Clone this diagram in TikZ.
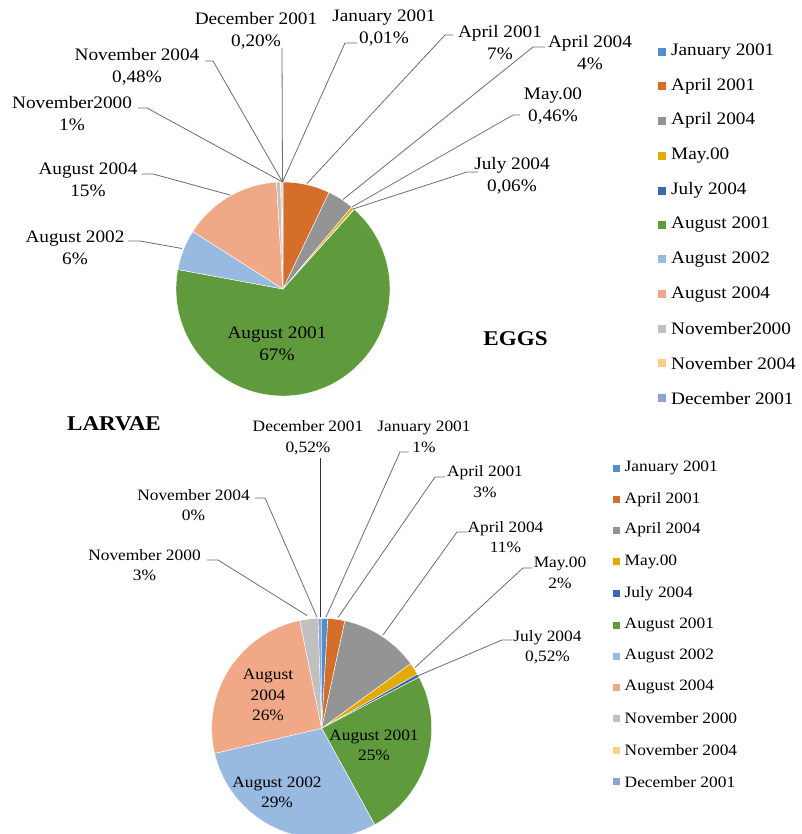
\documentclass[tikz,border=0pt]{standalone}
\usepackage{fontspec}
\setmainfont[FakeStretch=1.1]{Liberation Serif}
\usetikzlibrary{calc}
\definecolor{cJan}{HTML}{4F8FCB}
\definecolor{cAprA}{HTML}{D46E2A}
\definecolor{cAprB}{HTML}{949494}
\definecolor{cMay}{HTML}{E3AB00}
\definecolor{cJul}{HTML}{3F66B3}
\definecolor{cAugA}{HTML}{5F9A3C}
\definecolor{cAugB}{HTML}{98B9E0}
\definecolor{cAugC}{HTML}{F1A887}
\definecolor{cNovA}{HTML}{C0C0C0}
\definecolor{cNovB}{HTML}{FDD080}
\definecolor{cDec}{HTML}{8EA4D6}
\definecolor{cLead}{HTML}{6E6E6E}
\newcommand\pieslice[6]{\fill[#6, draw=white, line width=0.4pt] (#1,#2) -- ++(#4-90:#3) arc[start angle=#4-90, end angle=#5-90, radius=#3] -- cycle;}
\tikzset{
  leader/.style={draw=cLead, line width=0.8pt},
  lblA/.style={align=center, font=\fontsize{17.5}{22}\selectfont, inner sep=0pt},
  lblB/.style={align=center, font=\fontsize{15.8}{20.5}\selectfont, inner sep=0pt},
  legA/.style={anchor=west, font=\fontsize{17.5}{22}\selectfont, inner sep=0pt},
  legB/.style={anchor=west, font=\fontsize{15.8}{20.5}\selectfont, inner sep=0pt},
  sqA/.style={minimum size=8pt, inner sep=0pt},
  sqB/.style={minimum size=7pt, inner sep=0pt},
  ttl/.style={font=\fontsize{21}{24}\selectfont\bfseries, inner sep=0pt}
}
\begin{document}
\begin{tikzpicture}[x=1pt,y=-1pt]
\useasboundingbox (0,0) rectangle (801,834);
\fill[white] (0,0) rectangle (801,834);
% ---------- EGGS pie ----------
\pieslice{283}{289}{107}{0}{0.1}{cJan}
\pieslice{283}{289}{107}{0.1}{25.5}{cAprA}
\pieslice{283}{289}{107}{25.5}{40}{cAprB}
\pieslice{283}{289}{107}{40}{41.6}{cMay}
\pieslice{283}{289}{107}{41.6}{41.9}{cJul}
\pieslice{283}{289}{107}{41.9}{280.5}{cAugA}
\pieslice{283}{289}{107}{280.5}{302.5}{cAugB}
\pieslice{283}{289}{107}{302.5}{356.5}{cAugC}
\pieslice{283}{289}{107}{356.5}{358.7}{cNovA}
\pieslice{283}{289}{107}{358.7}{359.5}{cNovB}
\pieslice{283}{289}{107}{359.5}{360}{cDec}
% labels
\node[lblA] (tDec) at (256,31) {December 2001\\0,20\%};
\node[lblA] (tJan) at (384,28) {January 2001\\0,01\%};
\node[lblA] (tAprA) at (500,42.5) {April 2001\\7\%};
\node[lblA] (tAprB) at (590,52.5) {April 2004\\4\%};
\node[lblA] (tMay) at (553,106.5) {May.00\\0,46\%};
\node[lblA] (tJul) at (512,176) {July 2004\\0,06\%};
\node[lblA] (tNovB) at (137,66.7) {November 2004\\0,48\%};
\node[lblA] (tNovA) at (72,114) {November2000\\1\%};
\node[lblA] (tAugC) at (88,180) {August 2004\\15\%};
\node[lblA] (tAugB) at (75,248) {August 2002\\6\%};
\node[lblA] (tAugA) at (277,343.5) {August 2001\\67\%};
\node[ttl] (eggs) at (515.5,339) {EGGS};
% leader coordinates
\coordinate (pTop) at (282.5,182);
\coordinate (aDec) at (282,48);
\coordinate (aJan) at (357,43);
\coordinate (aAprA) at (453,35);
\coordinate (aAprB) at (545,47);
\coordinate (aMay) at (520,115);
\coordinate (aJul) at (478,172);
\coordinate (aNovB) at (205,61);
\coordinate (aNovA) at (138,108);
\coordinate (aAugC) at (142,174);
\coordinate (aAugB) at (128,241);
\coordinate (eAprA) at (307,183.5);
\coordinate (eAprB) at (343,199.5);
\coordinate (eMay) at (352,207);
\coordinate (eJul) at (353,209);
\coordinate (eAugC) at (230,195);
\coordinate (eAugB) at (182,248.5);
\draw[leader] (aDec) -- (pTop);
\draw[leader] (aJan) -- ++(-12,0) -- (pTop);
\draw[leader] (aAprA) -- ++(-8,0) -- (eAprA);
\draw[leader] (aAprB) -- ++(-12,0) -- (eAprB);
\draw[leader] (aMay) -- ++(-7,0) -- (eMay);
\draw[leader] (aJul) -- ++(-11,0) -- (eJul);
\draw[leader] (aNovB) -- ++(8,0) -- (pTop);
\draw[leader] (aNovA) -- ++(9,0) -- (pTop);
\draw[leader] (aAugC) -- ++(11,0) -- (eAugC);
\draw[leader] (aAugB) -- ++(12,0) -- (eAugB);
% legend top
\foreach \yy/\cc/\tt [count=\i] in {51.7/cJan/January 2001, 86/cAprA/April 2001, 120.7/cAprB/April 2004, 156/cMay/May.00, 190.7/cJul/July 2004, 225/cAugA/August 2001, 259.3/cAugB/August 2002, 294.3/cAugC/August 2004, 329/cNovA/November2000, 363.3/cNovB/November 2004, 398.3/cDec/December 2001}{
  \node[sqA, fill=\cc] (ls\i) at (662,\yy) {};
  \node[legA] (lt\i) at (671,\yy) {\tt};
}
% ---------- LARVAE pie ----------
\pieslice{321.7}{728.3}{110}{0}{3.2}{cJan}
\pieslice{321.7}{728.3}{110}{3.2}{12.2}{cAprA}
\pieslice{321.7}{728.3}{110}{12.2}{54}{cAprB}
\pieslice{321.7}{728.3}{110}{54}{60.5}{cMay}
\pieslice{321.7}{728.3}{110}{60.5}{62.3}{cJul}
\pieslice{321.7}{728.3}{110}{62.3}{151.2}{cAugA}
\pieslice{321.7}{728.3}{110}{151.2}{256.8}{cAugB}
\pieslice{321.7}{728.3}{110}{256.8}{348.5}{cAugC}
\pieslice{321.7}{728.3}{110}{348.5}{358.1}{cNovA}
\pieslice{321.7}{728.3}{110}{358.1}{360}{cDec}
\node[ttl] (larvae) at (114,424) {LARVAE};
\node[lblB] (bDec) at (308,437.5) {December 2001\\0,52\%};
\node[lblB] (bJan) at (424,436.7) {January 2001\\1\%};
\node[lblB] (bAprA) at (485,481.7) {April 2001\\3\%};
\node[lblB] (bAprB) at (505.5,537) {April 2004\\11\%};
\node[lblB] (bMay) at (560,573) {May.00\\2\%};
\node[lblB] (bJul) at (547.5,647) {July 2004\\0,52\%};
\node[lblB] (bNovB) at (193.5,505) {November 2004\\0\%};
\node[lblB] (bNovA) at (144.5,565) {November 2000\\3\%};
\node[lblB] (bAugC) at (268,695) {August\\2004\\26\%};
\node[lblB] (bAugA) at (374,745.5) {August 2001\\25\%};
\node[lblB] (bAugB) at (277,792.5) {August 2002\\29\%};
\coordinate (cDecA) at (320,458);
\coordinate (cDecE) at (320,617);
\coordinate (cJanA) at (409,452);
\coordinate (cJanE) at (326,617);
\coordinate (cAprAA) at (445,477);
\coordinate (cAprAE) at (338,617.5);
\coordinate (cAprBA) at (467,532);
\coordinate (cAprBE) at (383,635);
\coordinate (cMayA) at (532,568);
\coordinate (cMayE) at (415,667.5);
\coordinate (cJulA) at (512,640);
\coordinate (cJulE) at (417.5,676);
\coordinate (cNovBA) at (255,498);
\coordinate (cNovBE) at (317,617);
\coordinate (cNovAA) at (207,560);
\coordinate (cNovAE) at (307,615.5);
\draw[leader, draw=black!80] (cDecA) -- (cDecE);
\draw[leader] (cJanA) -- ++(-9,0) -- (cJanE);
\draw[leader] (cAprAA) -- ++(-10,0) -- (cAprAE);
\draw[leader] (cAprBA) -- ++(-10,0) -- (cAprBE);
\draw[leader] (cMayA) -- ++(-9,0) -- (cMayE);
\draw[leader] (cJulA) -- ++(-10,0) -- (cJulE);
\draw[leader] (cNovBA) -- ++(10,0) -- (cNovBE);
\draw[leader] (cNovAA) -- ++(11,0) -- (cNovAE);
% legend bottom
\foreach \yy/\cc/\tt [count=\i] in {468.3/cJan/January 2001, 499.3/cAprA/April 2001, 530/cAprB/April 2004, 561.7/cMay/May.00, 593.3/cJul/July 2004, 625/cAugA/August 2001, 656/cAugB/August 2002, 687.3/cAugC/August 2004, 718.3/cNovA/November 2000, 750/cNovB/November 2004, 781.7/cDec/December 2001}{
  \node[sqB, fill=\cc] (ms\i) at (616,\yy) {};
  \node[legB] (mt\i) at (624.5,\yy) {\tt};
}
\end{tikzpicture}
\end{document}
